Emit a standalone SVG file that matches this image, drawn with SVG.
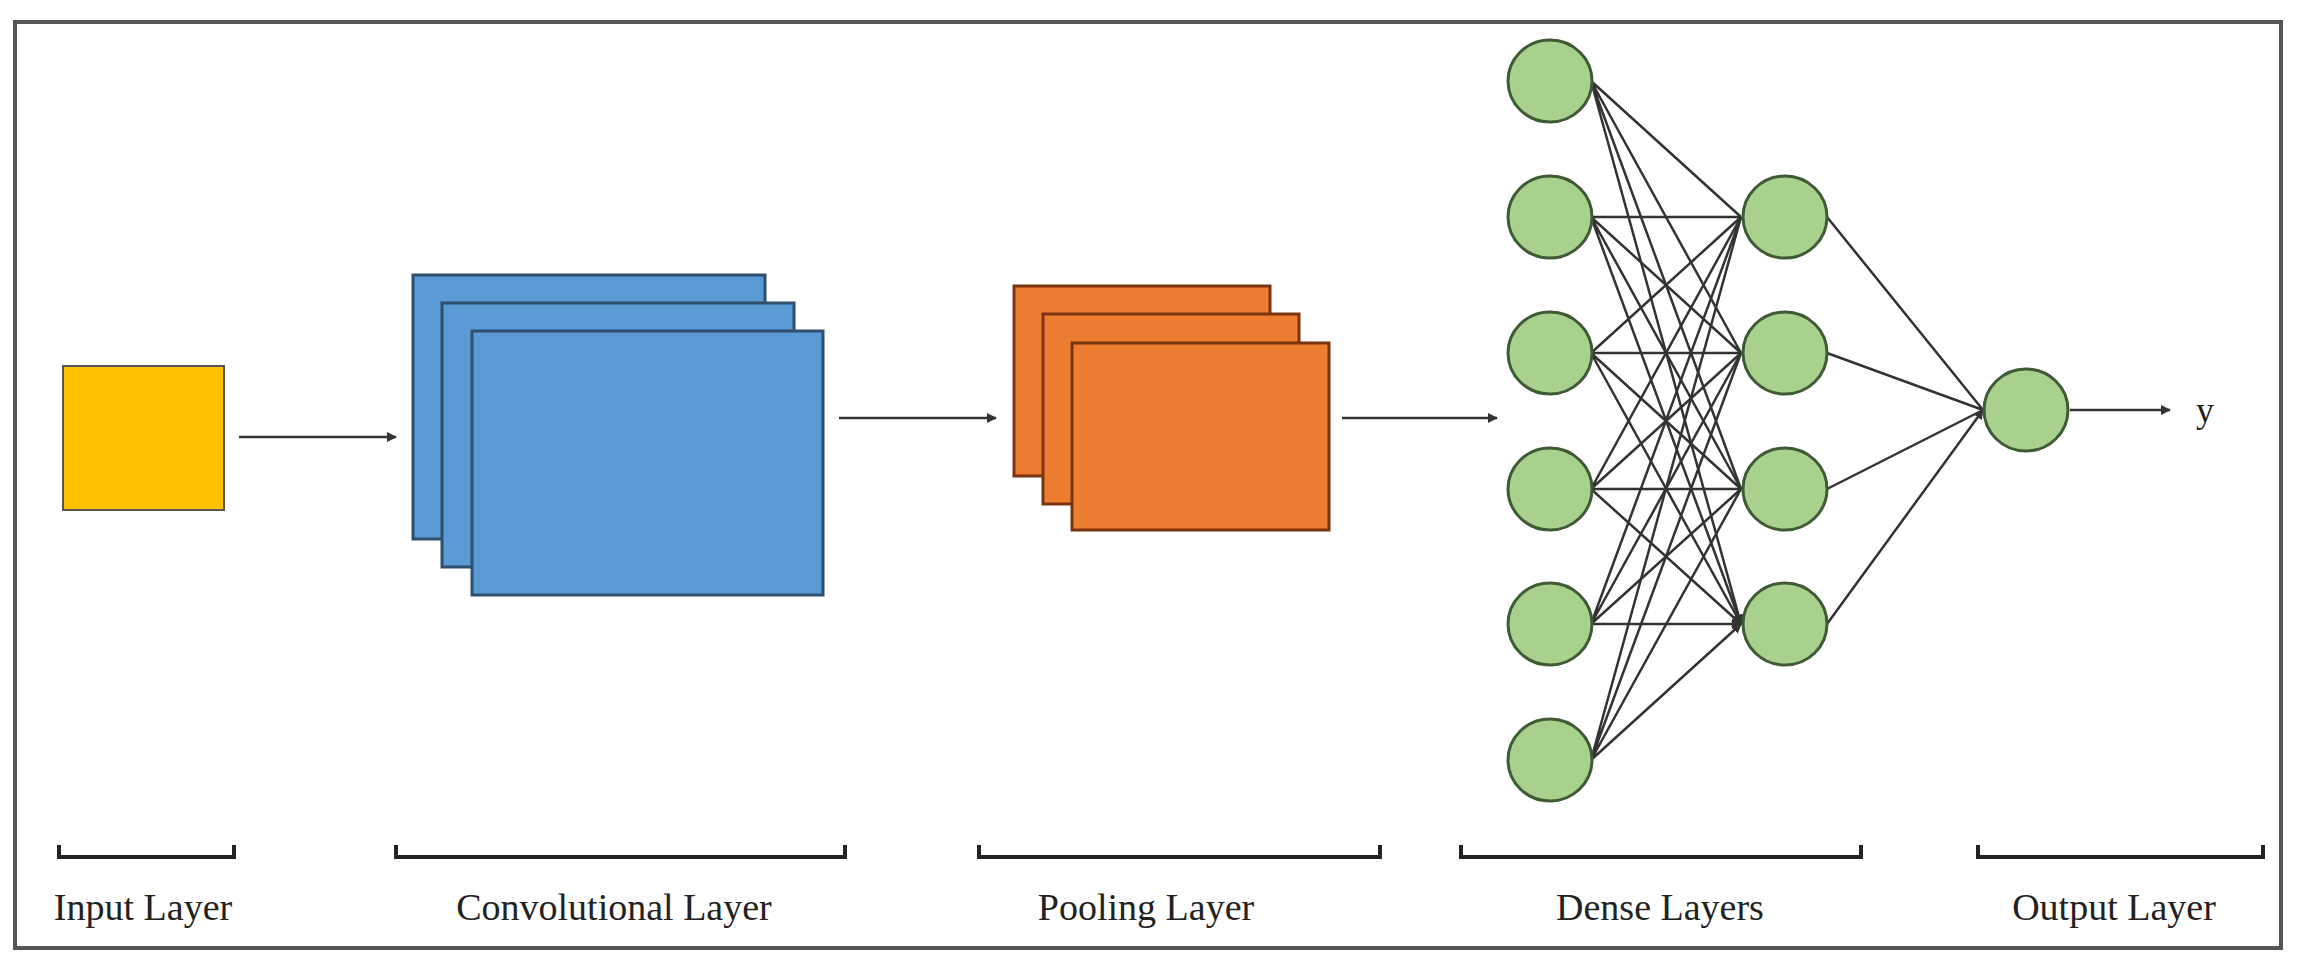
<svg xmlns="http://www.w3.org/2000/svg" width="2297" height="962" viewBox="0 0 2297 962">
<style>
.lbl{font-family:"Liberation Serif","DejaVu Serif",serif;font-size:38px;fill:#222;text-anchor:middle}
.c{fill:#A9D18E;stroke:#3f5a35;stroke-width:3}
.e{stroke:#333;stroke-width:2.5;fill:none}
.br{stroke:#222;stroke-width:4;fill:none}
</style>
<defs>
<marker id="ah" markerWidth="10" markerHeight="10" refX="9" refY="5" orient="auto" markerUnits="userSpaceOnUse"><path d="M0,0 L10,5 L0,10 z" fill="#333"/></marker>
</defs>
<rect x="0" y="0" width="2297" height="962" fill="#fff"/>
<rect x="15" y="22" width="2266" height="926" fill="none" stroke="#555" stroke-width="4"/>
<g id="input"><rect x="63" y="366" width="161" height="144" fill="#FFC000" stroke="#555" stroke-width="2"/></g>
<g id="conv">
<rect x="413" y="275" width="352" height="264" fill="#5B9BD5" stroke="#2f4f6f" stroke-width="3"/>
<rect x="442" y="303" width="352" height="264" fill="#5B9BD5" stroke="#2f4f6f" stroke-width="3"/>
<rect x="472" y="331" width="351" height="264" fill="#5B9BD5" stroke="#2f4f6f" stroke-width="3"/>
</g>
<g id="pool">
<rect x="1014" y="286" width="256" height="190" fill="#ED7D31" stroke="#7a3410" stroke-width="3"/>
<rect x="1043" y="314" width="256" height="190" fill="#ED7D31" stroke="#7a3410" stroke-width="3"/>
<rect x="1072" y="343" width="257" height="187" fill="#ED7D31" stroke="#7a3410" stroke-width="3"/>
</g>
<g id="connectors">
<line class="e" x1="239" y1="437" x2="396" y2="437" marker-end="url(#ah)"/>
<line class="e" x1="839" y1="418" x2="996" y2="418" marker-end="url(#ah)"/>
<line class="e" x1="1342" y1="418" x2="1497" y2="418" marker-end="url(#ah)"/>
<line class="e" x1="2070" y1="410" x2="2170" y2="410" marker-end="url(#ah)"/>
<g class="e" marker-end="url(#ah)">
<path d="M1591,81 L1741,217 M1591,81 L1741,353 M1591,81 L1741,489 M1591,81 L1741,624"/>
<path d="M1591,217 L1741,217 M1591,217 L1741,353 M1591,217 L1741,489 M1591,217 L1741,624"/>
<path d="M1591,353 L1741,217 M1591,353 L1741,353 M1591,353 L1741,489 M1591,353 L1741,624"/>
<path d="M1591,489 L1741,217 M1591,489 L1741,353 M1591,489 L1741,489 M1591,489 L1741,624"/>
<path d="M1591,624 L1741,217 M1591,624 L1741,353 M1591,624 L1741,489 M1591,624 L1741,624"/>
<path d="M1591,760 L1741,217 M1591,760 L1741,353 M1591,760 L1741,489 M1591,760 L1741,624"/>
<path d="M1827,217 L1983,410 M1827,353 L1983,410 M1827,489 L1983,410 M1827,624 L1983,410"/>
</g>
</g>
<g id="dense1">
<ellipse class="c" cx="1550" cy="81" rx="42" ry="41"/>
<ellipse class="c" cx="1550" cy="217" rx="42" ry="41"/>
<ellipse class="c" cx="1550" cy="353" rx="42" ry="41"/>
<ellipse class="c" cx="1550" cy="489" rx="42" ry="41"/>
<ellipse class="c" cx="1550" cy="624" rx="42" ry="41"/>
<ellipse class="c" cx="1550" cy="760" rx="42" ry="41"/>
</g>
<g id="dense2">
<ellipse class="c" cx="1785" cy="217" rx="42" ry="41"/>
<ellipse class="c" cx="1785" cy="353" rx="42" ry="41"/>
<ellipse class="c" cx="1785" cy="489" rx="42" ry="41"/>
<ellipse class="c" cx="1785" cy="624" rx="42" ry="41"/>
</g>
<g id="output"><ellipse class="c" cx="2026" cy="410" rx="42" ry="41"/></g>
<text x="2205" y="422" class="lbl" style="font-size:36px">y</text>
<g id="brackets">
<path class="br" d="M59,845 V857 H234 V845"/>
<path class="br" d="M396,845 V857 H845 V845"/>
<path class="br" d="M979,845 V857 H1380 V845"/>
<path class="br" d="M1461,845 V857 H1861 V845"/>
<path class="br" d="M1978,845 V857 H2263 V845"/>
</g>
<g id="labels">
<text x="143" y="920" class="lbl">Input Layer</text>
<text x="614" y="920" class="lbl">Convolutional Layer</text>
<text x="1146" y="920" class="lbl">Pooling Layer</text>
<text x="1660" y="920" class="lbl">Dense Layers</text>
<text x="2114" y="920" class="lbl">Output Layer</text>
</g>
</svg>
